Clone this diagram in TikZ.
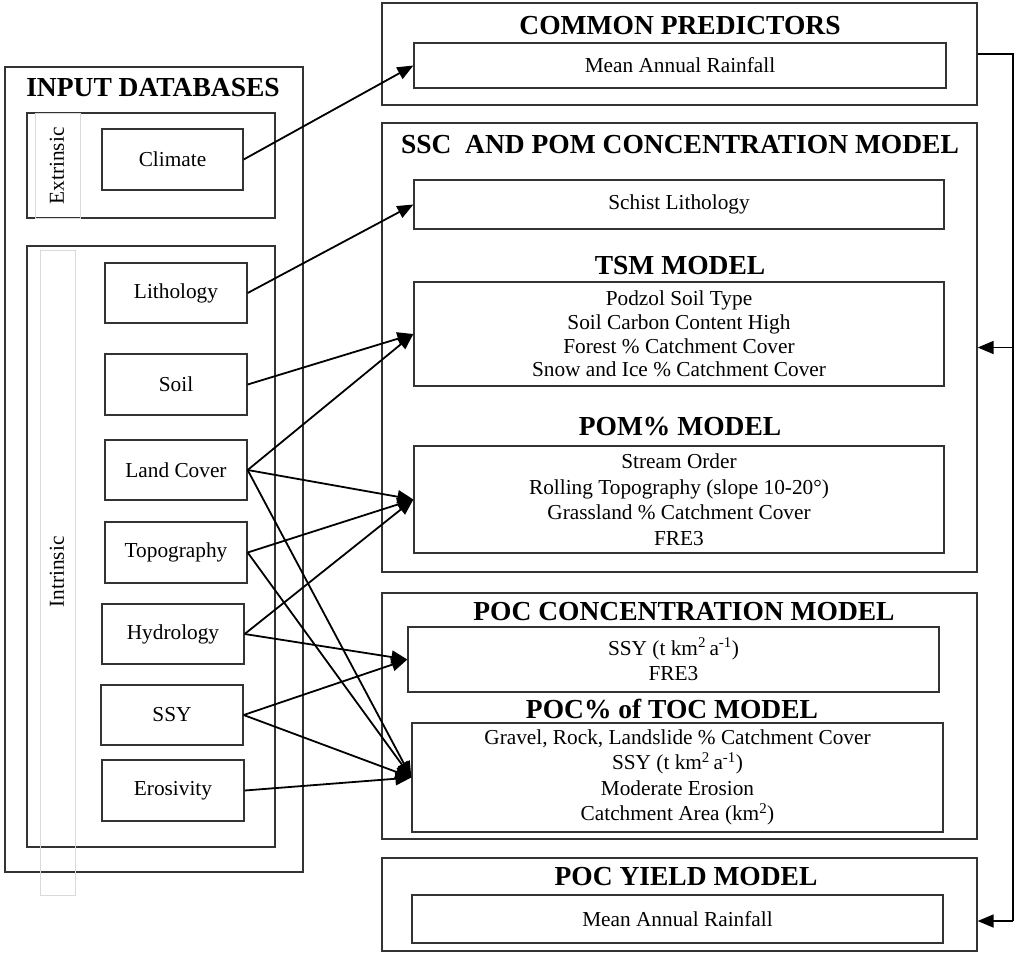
\documentclass[tikz,border=0pt]{standalone}
\usepackage{fontspec}
\setmainfont{Liberation Serif}
\usetikzlibrary{fit,arrows.meta}
\newcommand\bodyf{\fontsize{21.3}{25.5}\selectfont}
\newcommand\ttlf{\fontsize{27.5}{30}\selectfont\bfseries}
\tikzset{
  box/.style={draw=black!80, line width=1.3pt, inner sep=0pt, align=center, font=\bodyf},
  bx/.style n args={2}{box, minimum width=#1pt, minimum height=#2pt},
  ttl/.style={font=\ttlf, inner sep=0pt},
  lbl/.style={font=\bodyf, inner sep=0pt},
  arr/.style={line width=1.8pt, -{Triangle[length=16pt,width=13pt]}},
  faint/.style={draw=black!15, line width=0.8pt},
  fbline/.style={line width=1.6pt},
}
\begin{document}
\begin{tikzpicture}[x=1pt,y=-1pt]
\useasboundingbox (0,0) rectangle (1016,956);
% ---------- left panel ----------
\node[box, fit={(5,67)(303,872)}] (input) {};
\node[ttl] (tinput) at (153,88) {INPUT DATABASES};
\node[box, fit={(27,113)(275,218)}] (extr) {};
\draw[faint] (35,113) rectangle (80,218);
\node[lbl, rotate=90] (lextr) at (57,166) {Extrinsic};
\node[bx={141}{61}] (climate) at (172.5,159.5) {Climate};
\node[box, fit={(27,246)(275,847)}] (intr) {};
\draw[faint] (40,250) rectangle (75,895);
\node[lbl, rotate=90] (lintr) at (57,572) {Intrinsic};
\node[bx={142}{60}] (lith) at (176,293) {Lithology};
\node[bx={142}{61}] (soil) at (176,384.5) {Soil};
\node[bx={142}{60}] (land) at (176,470) {Land Cover};
\node[bx={142}{61}] (topo) at (176,552.5) {Topography};
\node[bx={142}{60}] (hydro) at (173,634) {Hydrology};
\node[bx={142}{60}] (ssy) at (172,715) {SSY};
\node[bx={142}{61}] (eros) at (173,790.5) {Erosivity};
% ---------- right panel ----------
\node[box, fit={(382,3)(977,105)}] (common) {};
\node[ttl] (tcommon) at (680,26) {COMMON PREDICTORS};
\node[bx={532}{45}] (rain1) at (680,65.5) {Mean Annual Rainfall};

\node[box, fit={(382,123)(977,572)}] (ssc) {};
\node[ttl] (tssc) at (680,145) {SSC\ \ AND POM CONCENTRATION MODEL};
\node[bx={530}{49}] (schist) at (679,204.5) {Schist Lithology};
\node[ttl] (ttsm) at (680,266) {TSM MODEL};
\node[bx={530}{104}, font={\fontsize{21.3}{23.7}\selectfont}] (tsm) at (679,334) {Podzol Soil Type\\Soil Carbon Content High\\Forest \% Catchment Cover\\Snow and Ice \% Catchment Cover};
\node[ttl] (tpom) at (680,427) {POM\% MODEL};
\node[bx={530}{107}] (pom) at (679,499.5) {Stream Order\\Rolling Topography (slope 10-20°)\\Grassland \% Catchment Cover\\FRE3};

\node[box, fit={(382,593)(977,839)}] (poc) {};
\node[ttl] (tpoc) at (684,612) {POC CONCENTRATION MODEL};
\node[bx={531}{65}] (ssybox) at (673.5,659.5) {SSY (t km\textsuperscript{2}\,a\textsuperscript{-1})\\FRE3};
\node[ttl] (ttoc) at (672,709) {POC\% of TOC MODEL};
\node[bx={531}{109}] (toc) at (677.5,777.5) {Gravel, Rock, Landslide \% Catchment Cover\\SSY (t km\textsuperscript{2}\,a\textsuperscript{-1})\\Moderate Erosion\\Catchment Area (km\textsuperscript{2})};

\node[box, fit={(382,858)(977,951)}] (yield) {};
\node[ttl] (tyield) at (686,877) {POC YIELD MODEL};
\node[bx={531}{48}] (rain2) at (677.5,919) {Mean Annual Rainfall};
% ---------- connectors ----------
\draw[arr] (climate.east) -- (rain1.west);
\draw[arr] (lith.east) -- (schist.west);
\draw[arr] (soil.east) -- (tsm.west);
\draw[arr] (land.east) -- (tsm.west);
\draw[arr] (land.east) -- (pom.west);
\draw[arr] (topo.east) -- (pom.west);
\draw[arr] (hydro.east) -- (pom.west);
\draw[arr] (hydro.east) -- (ssybox.west);
\draw[arr] (ssy.east) -- (ssybox.west);
\draw[arr] (land.east) -- (toc.west);
\draw[arr] (topo.east) -- (toc.west);
\draw[arr] (ssy.east) -- (toc.west);
\draw[arr] (eros.east) -- (toc.west);
% ---------- feedback line ----------
\coordinate (fbtop) at (1013,54);
\coordinate (fbbot) at (1013,921);
\draw[fbline] (common.east) -- (fbtop) -- (fbbot);
\draw[arr] (ssc.east -| fbtop) -- (ssc.east);
\draw[arr] (fbbot) -- (yield.east |- fbbot);
\end{tikzpicture}
\end{document}
